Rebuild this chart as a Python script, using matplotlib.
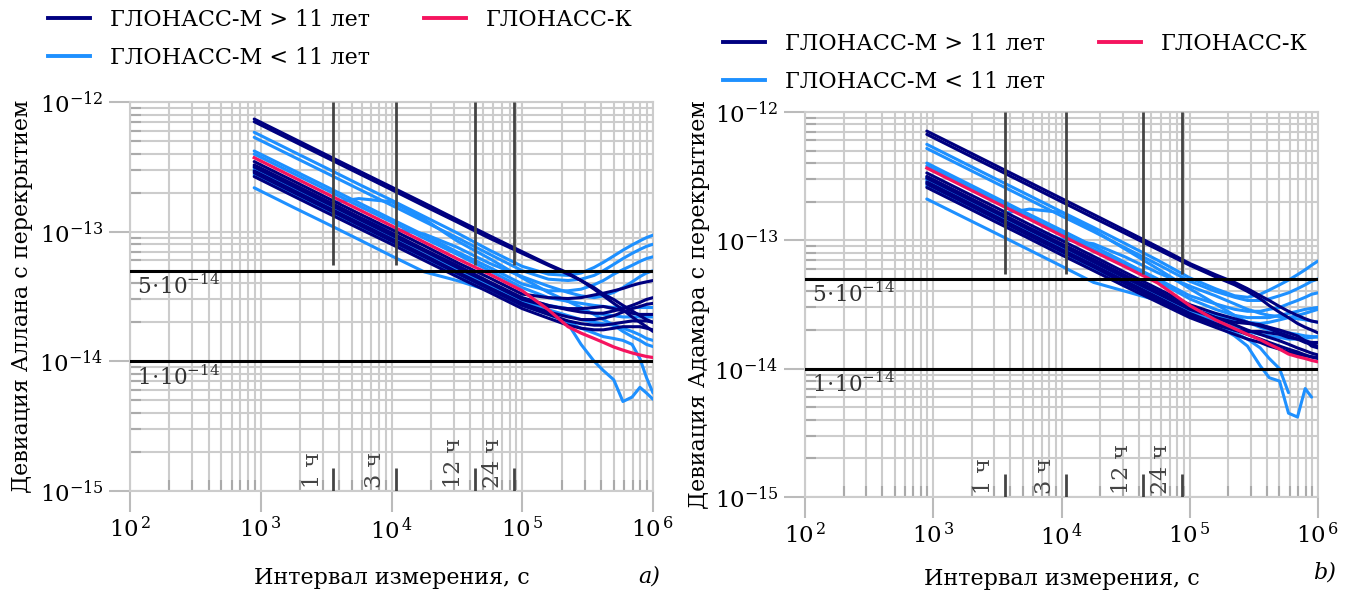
import numpy as np
import matplotlib
matplotlib.use('Agg')
import matplotlib.pyplot as plt
from matplotlib.ticker import LogLocator, NullFormatter
from matplotlib.lines import Line2D

plt.rcParams['font.family'] = ['DejaVu Serif']
plt.rcParams['mathtext.fontset'] = 'dejavuserif'

nan = np.nan

# averaging interval, s
tau = [891, 1778, 3162, 5623, 10000, 17783, 31623, 56234, 100000, 158489,
       223872, 281838, 354813, 416869, 501187, 588844, 691831, 794328, 891251, 1000000]

# ---- a) overlapping Allan deviation, units of 1e-14 ----
allan_old = [  # ГЛОНАСС-М > 11 лет
    [73.9, 52.3, 39.2, 29.4, 22.1, 16.6, 12.4, 9.3, 7.0, 5.6, 4.8, 4.2, 3.6, 3.2, 2.8, 2.5, 2.2, 2.0, 1.85, 1.7],
    [70.5, 49.9, 37.4, 28.1, 21.1, 15.8, 11.9, 8.9, 6.8, 5.5, 4.7, 4.2, 3.7, 3.3, 3.0, 2.7, 2.45, 2.25, 2.1, 2.0],
    [34.7, 24.6, 18.4, 13.8, 10.4, 7.8, 5.8, 4.4, 3.3, 3.1, 3.05, 3.1, 3.25, 3.35, 3.5, 3.65, 3.85, 4.0, 4.1, 4.2],
    [32.7, 23.2, 17.4, 13.0, 9.8, 7.3, 5.5, 4.1, 3.1, 2.7, 2.5, 2.4, 2.35, 2.35, 2.45, 2.55, 2.7, 2.85, 3.0, 3.1],
    [31.5, 22.3, 16.7, 12.5, 9.4, 7.1, 5.3, 4.0, 3.0, 2.65, 2.55, 2.55, 2.6, 2.65, 2.55, 2.45, 2.35, 2.3, 2.3, 2.3],
    [29.4, 20.8, 15.6, 11.7, 8.8, 6.6, 4.9, 3.7, 2.8, 2.4, 2.2, 2.1, 2.1, 2.15, 2.25, 2.4, 2.55, 2.65, 2.75, 2.8],
    [28.4, 20.1, 15.1, 11.3, 8.5, 6.4, 4.8, 3.6, 2.7, 2.3, 2.05, 1.95, 1.9, 1.9, 1.95, 2.0, 2.05, 2.05, 2.05, 2.0],
    [26.6, 18.8, 14.1, 10.6, 8.0, 6.0, 4.5, 3.4, 2.55, 2.15, 1.9, 1.8, 1.75, 1.75, 1.8, 1.85, 1.85, 1.85, 1.8, 1.75],
]
allan_young = [  # ГЛОНАСС-М < 11 лет
    [58.4, 41.3, 31.0, 23.2, 17.5, 13.1, 9.8, 7.2, 5.4, 4.7, 4.6, 4.8, 5.3, 5.8, 6.5, 7.2, 7.9, 8.5, 9.0, 9.4],
    [53.4, 37.8, 28.4, 21.3, 16.0, 12.0, 9.0, 6.7, 5.0, 4.3, 4.2, 4.3, 4.6, 5.0, 5.6, 6.2, 6.8, 7.3, 7.7, 8.0],
    [41.9, 29.7, 22.3, 16.7, 12.5, 9.4, 7.0, 5.3, 3.95, 3.5, 3.5, 3.6, 3.9, 4.2, 4.7, 5.1, 5.5, 5.9, 6.2, 6.4],
    [39.7, 28.1, 21.1, 15.8, 11.9, 8.9, 6.7, 5.0, 3.7, 3.1, 2.9, 2.8, 2.7, 2.65, 2.6, 2.6, 2.6, 2.6, 2.6, 2.6],
    [32.0, 22.7, 17.0, 12.8, 10.5, 9.6, 7.6, 5.7, 4.5, 3.8, 3.4, 3.2, 3.1, 3.2, 3.4, 3.7, 4.1, 4.5, 4.8, 5.0],
    [31.0, 22.0, 16.5, 18.0, 17.0, 12.5, 8.5, 6.2, 4.4, 3.4, 2.9, 2.6, 2.3, 2.1, 1.9, 1.7, 1.55, 1.45, 1.35, 1.3],
    [30.0, 21.2, 15.9, 11.9, 9.0, 6.7, 5.1, 3.8, 2.9, 2.5, 2.25, 2.1, 2.0, 1.95, 1.9, 1.8, 1.7, 1.6, 1.5, 1.45],
    [29.0, 20.5, 15.4, 11.6, 8.7, 6.5, 4.9, 3.7, 2.9, 2.4, 1.95, 1.35, 1.0, 0.85, 0.72, 0.49, 0.53, 0.63, 0.57, 0.51],
    [27.4, 19.4, 14.6, 10.9, 8.2, 6.2, 4.6, 3.5, 2.7, 2.3, 2.0, 1.8, 1.65, 1.55, 1.5, 1.45, 1.35, 1.05, 0.75, 0.57],
    [21.8, 15.4, 11.6, 8.7, 6.5, 4.9, 4.2, 3.5, 3.05, 2.7, 2.55, 2.45, 2.35, 2.3, 2.25, 2.2, 2.2, 2.2, 2.2, 2.2],
]
allan_k = [37.2, 26.3, 19.7, 14.8, 11.1, 8.3, 6.2, 4.7, 3.5, 2.5, 1.85, 1.65, 1.5, 1.4, 1.29, 1.22, 1.16, 1.12, 1.09, 1.07]

# ---- b) overlapping Hadamard deviation, units of 1e-14 ----
hadamard_old = [
    [71.0, 50.3, 37.7, 28.3, 21.2, 15.9, 11.9, 8.9, 6.6, 5.4, 4.7, 4.2, 3.7, 3.4, 3.05, 2.8, 2.6, 2.45, 2.35, 2.3],
    [67.0, 47.4, 35.6, 26.7, 20.0, 15.0, 11.3, 8.5, 6.4, 5.2, 4.5, 4.0, 3.5, 3.1, 2.75, 2.5, 2.25, 2.1, 2.0, 1.9],
    [33.5, 23.7, 17.8, 13.3, 10.0, 7.5, 5.6, 4.2, 3.15, 2.7, 2.45, 2.3, 2.15, 2.05, 1.9, 1.8, 1.7, 1.6, 1.55, 1.5],
    [31.5, 22.3, 16.7, 12.5, 9.4, 7.1, 5.3, 4.0, 3.0, 2.5, 2.2, 2.0, 1.85, 1.75, 1.65, 1.55, 1.45, 1.38, 1.32, 1.28],
    [30.5, 21.6, 16.2, 12.1, 9.1, 6.8, 5.1, 3.85, 2.9, 2.5, 2.3, 2.25, 2.2, 2.1, 2.0, 1.9, 1.8, 1.65, 1.5, 1.45],
    [28.5, 20.2, 15.1, 11.3, 8.5, 6.4, 4.8, 3.6, 2.7, 2.25, 2.0, 1.85, 1.7, 1.6, 1.5, 1.42, 1.35, 1.28, 1.23, 1.2],
    [27.5, 19.5, 14.6, 10.9, 8.2, 6.2, 4.6, 3.45, 2.6, 2.2, 2.0, 1.95, 1.95, 1.9, 1.85, 1.75, 1.7, 1.65, 1.6, 1.6],
    [25.8, 18.3, 13.7, 10.3, 7.7, 5.8, 4.35, 3.3, 2.5, 2.1, 1.85, 1.7, 1.6, 1.5, 1.42, 1.35, 1.3, 1.26, 1.24, 1.22],
]
hadamard_young = [
    [56.0, 39.6, 29.7, 22.3, 16.7, 12.6, 9.4, 7.0, 5.1, 4.2, 3.7, 3.6, 3.8, 4.1, 4.5, 4.9, 5.4, 5.9, 6.4, 6.9],
    [52.0, 36.8, 27.6, 20.7, 15.5, 11.7, 8.7, 6.5, 4.8, 4.0, 3.6, 3.4, 3.4, 3.5, 3.7, 3.9, 4.2, 4.5, 4.8, 5.0],
    [40.0, 28.3, 21.2, 15.9, 12.0, 9.0, 6.7, 5.0, 3.7, 3.2, 2.9, 2.8, 2.8, 2.9, 3.0, 3.2, 3.4, 3.6, 3.8, 3.9],
    [38.0, 26.9, 20.2, 15.1, 11.4, 8.5, 6.4, 4.8, 3.5, 2.9, 2.6, 2.5, 2.5, 2.5, 2.6, 2.7, 2.8, 2.9, 2.95, 3.0],
    [31.0, 22.0, 16.5, 12.4, 10.2, 9.4, 7.4, 5.6, 4.4, 3.7, 3.2, 2.9, 2.7, 2.6, 2.55, 2.5, 2.45, 2.4, 2.35, 2.3],
    [30.0, 21.2, 16.0, 17.5, 16.5, 12.0, 8.5, 6.0, 4.2, 3.2, 2.6, 2.3, 2.1, 2.0, 1.95, 1.9, 1.85, 1.8, 1.78, 1.77],
    [29.5, 20.9, 15.7, 11.7, 8.8, 6.6, 5.0, 3.7, 2.8, 2.35, 2.1, 1.95, 1.85, 1.8, 1.75, 1.7, 1.7, 1.72, 1.75, 1.77],
    [28.0, 19.8, 14.9, 11.2, 8.4, 6.3, 4.7, 3.5, 2.7, 2.2, 1.8, 1.5, 1.05, 0.85, 0.8, 0.45, 0.42, 0.7, 0.6, nan],
    [26.5, 18.8, 14.1, 10.5, 7.9, 5.9, 4.5, 3.4, 2.6, 2.2, 1.9, 1.7, 1.45, 1.2, 1.0, 0.65, nan, nan, nan, nan],
    [21.0, 14.9, 11.2, 8.4, 6.3, 4.7, 4.0, 3.4, 2.9, 2.6, 2.4, 2.3, 2.25, 2.3, 2.4, 2.5, 2.6, 2.7, 2.8, 2.9],
]
hadamard_k = [36.6, 25.9, 19.4, 14.6, 10.9, 8.2, 6.2, 4.65, 3.1, 2.4, 2.05, 1.85, 1.68, 1.55, 1.42, 1.3, 1.24, 1.2, 1.16, 1.13]

unit = 1e-14
hours_s = [3600, 10800, 43200, 86400]
hours_lbl = ['1 ч', '3 ч', '12 ч', '24 ч']
levels = [5e-14, 1e-14]
level_lbl = [r'$5\!\cdot\!10^{-14}$', r'$1\!\cdot\!10^{-14}$']
xt_exp = [2, 3, 4, 5, 6]
yt_exp = [-15, -14, -13, -12]

NAVY = '#000080'
BLUE = '#1E90FF'
PINK = '#F5145F'
GRID = '#cccccc'
MARK = '#444444'

fig = plt.figure(figsize=(13.47, 5.90), dpi=100)
W, H = 1347, 590
ax1 = fig.add_axes([130 / W, 1 - 491 / H, 523 / W, 389 / H])
ax2 = fig.add_axes([805 / W, 1 - 497 / H, 513 / W, 385 / H])


def panel(ax, old, young, k, ylabel, tag, tagpos):
    t = np.array(tau, dtype=float)
    for v in young:
        ax.plot(t, np.array(v) * unit, color=BLUE, lw=2.2, zorder=3, solid_capstyle='round')
    for v in old:
        ax.plot(t, np.array(v) * unit, color=NAVY, lw=2.2, zorder=4, solid_capstyle='round')
    ax.plot(t, np.array(k) * unit, color=PINK, lw=2.3, zorder=5)

    ax.set_xscale('log')
    ax.set_yscale('log')
    ax.set_xlim(1e2, 1e6)
    ax.set_ylim(1e-15, 1e-12)

    for lv, lb in zip(levels, level_lbl):
        ax.axhline(lv, color='black', lw=2.2, zorder=6)
        ax.text(1.14e2, lv * 0.93, lb, ha='left', va='top', fontsize=15.5, color='#333333', zorder=7)

    ax.vlines(hours_s, 5.5e-14, 1e-12, color=MARK, lw=2.0, zorder=6)
    ax.vlines(hours_s, 1e-15, 1.5e-15, color=MARK, lw=2.0, zorder=6)
    for h, lb in zip(hours_s, hours_lbl):
        ax.annotate(lb, xy=(h, 1e-15), xytext=(-7, 2), textcoords='offset points',
                    rotation=90, ha='right', va='bottom', fontsize=16, color='#444444')

    ax.set_xticks([10.0 ** e for e in xt_exp])
    ax.set_xticklabels([r'$10^{\,%d}$' % e for e in xt_exp])
    ax.set_yticks([10.0 ** e for e in yt_exp])
    ax.set_yticklabels([r'$10^{%d}$' % e for e in yt_exp])
    ax.xaxis.set_minor_locator(LogLocator(base=10, subs=np.arange(2, 10)))
    ax.yaxis.set_minor_locator(LogLocator(base=10, subs=np.arange(2, 10)))
    ax.xaxis.set_minor_formatter(NullFormatter())
    ax.yaxis.set_minor_formatter(NullFormatter())

    ax.grid(which='both', color=GRID, lw=1.5)
    ax.set_axisbelow(True)
    ax.tick_params(which='major', direction='out', length=15, width=1.5, color='#bbbbbb',
                   labelsize=16.5, pad=4)
    ax.tick_params(which='minor', direction='in', length=8, width=1.5, color='#aaaaaa')
    for s in ax.spines.values():
        s.set_color(GRID)
        s.set_linewidth(1.5)

    ax.set_xlabel('Интервал измерения, с', fontsize=16)
    ax.set_ylabel(ylabel, fontsize=16)
    fig.text(tagpos[0], tagpos[1], tag, style='italic', fontsize=16, ha='right', va='bottom')


panel(ax1, allan_old, allan_young, allan_k, 'Девиация Аллана с перекрытием', 'a)',
      (660 / W, 1 - 588 / H))
panel(ax2, hadamard_old, hadamard_young, hadamard_k, 'Девиация Адамара с перекрытием', 'b)',
      (1336 / W, 1 - 583 / H))
ax1.xaxis.set_label_coords(0.5, -0.195)
ax2.xaxis.set_label_coords(0.5, -0.185)
ax1.yaxis.set_label_coords(-0.185, 0.5)
ax2.yaxis.set_label_coords(-0.185, 0.5)

legend_labels = ['ГЛОНАСС-М > 11 лет', 'ГЛОНАСС-М < 11 лет', 'ГЛОНАСС-К']
handles = [Line2D([], [], color=NAVY, lw=2.8), Line2D([], [], color=BLUE, lw=2.8),
           Line2D([], [], color=PINK, lw=2.8)]
for anchor in [(48 / W, 1 - 9 / H), (723 / W, 1 - 33 / H)]:
    fig.legend(handles, legend_labels, loc='upper left', bbox_to_anchor=anchor, ncol=2,
               frameon=False, fontsize=16, handlelength=1.9, handletextpad=0.9,
               columnspacing=2.4, labelspacing=0.72, borderaxespad=0, borderpad=0)

fig.savefig('out.png', dpi=100)
